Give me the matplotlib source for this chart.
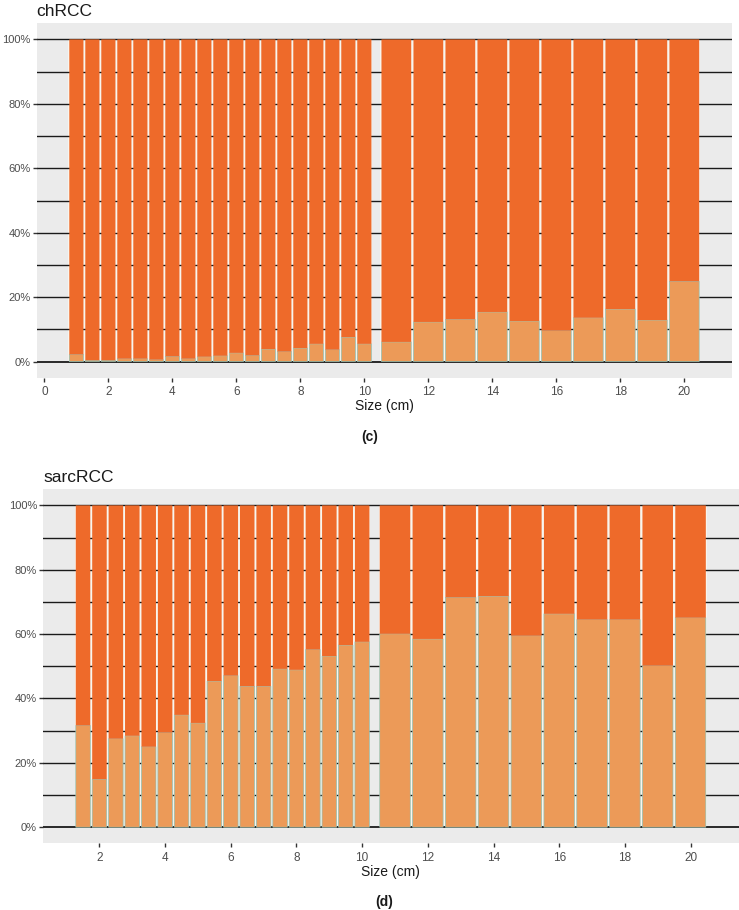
import matplotlib
matplotlib.use("Agg")
import matplotlib.pyplot as plt
import numpy as np

plt.rcParams["font.family"] = ["Liberation Sans", "DejaVu Sans"]

# ---- data ----
ch_small_x = [1.0, 1.5, 2.0, 2.5, 3.0, 3.5, 4.0, 4.5, 5.0, 5.5, 6.0, 6.5, 7.0, 7.5, 8.0, 8.5, 9.0, 9.5, 10.0]
ch_small_low = [2.2, 0.4, 0.4, 0.9, 0.9, 0.6, 1.6, 0.9, 1.5, 1.8, 2.7, 1.9, 3.9, 3.1, 4.2, 5.5, 3.7, 7.6, 5.5]
ch_big_x = [11, 12, 13, 14, 15, 16, 17, 18, 19, 20]
ch_big_low = [6.1, 12.3, 13.1, 15.4, 12.6, 9.6, 13.6, 16.3, 12.9, 24.9]

sarc_small_x = [1.5, 2.0, 2.5, 3.0, 3.5, 4.0, 4.5, 5.0, 5.5, 6.0, 6.5, 7.0, 7.5, 8.0, 8.5, 9.0, 9.5, 10.0]
sarc_small_low = [31.6, 14.9, 27.5, 28.4, 25.0, 29.4, 34.9, 32.4, 45.4, 47.1, 43.8, 43.8, 49.2, 48.9, 55.2, 53.2, 56.6, 57.6]
sarc_big_x = [11, 12, 13, 14, 15, 16, 17, 18, 19, 20]
sarc_big_low = [60.1, 58.5, 71.4, 71.8, 59.5, 66.3, 64.5, 64.5, 50.2, 65.1]

titles = ["chRCC", "sarcRCC"]
panel_labels = ["(c)", "(d)"]
xticks = [[0, 2, 4, 6, 8, 10, 12, 14, 16, 18, 20], [2, 4, 6, 8, 10, 12, 14, 16, 18, 20]]
yticks = [0, 20, 40, 60, 80, 100]
ytick_labels = ["0%", "20%", "40%", "60%", "80%", "100%"]

DARK = "#EE6A2A"
LIGHT = "#EC9A58"
BG = "#EBEBEB"
TICKC = "#4D4D4D"

fig = plt.figure(figsize=(7.39, 9.10), dpi=100)
W, H = 739, 910

def axes_px(l, t, r, b):
    return fig.add_axes([l / W, 1 - b / H, (r - l) / W, (b - t) / H])

ax1 = axes_px(36.7, 23.3, 732, 377.7)
ax2 = axes_px(43.3, 489.3, 738.5, 843.3)

panels = [
    (ax1, ch_small_x, ch_small_low, ch_big_x, ch_big_low, (-0.24, 21.49)),
    (ax2, sarc_small_x, sarc_small_low, sarc_big_x, sarc_big_low, (0.29, 21.46)),
]

for i, (ax, sx, sl, bx, bl, xl) in enumerate(panels):
    ax.set_facecolor(BG)
    for spine in ax.spines.values():
        spine.set_visible(False)
    ax.set_xlim(*xl)
    ax.set_ylim(-5, 105)
    for xs, lows, w in ((sx, sl, 0.5), (bx, bl, 1.0)):
        xs = np.array(xs, dtype=float)
        lows = np.array(lows, dtype=float)
        gap = 0.058 if w == 0.5 else 0.07
        # whitish backing behind the bars (visible through the gaps)
        ax.bar(xs, 100, width=w, bottom=0, color="#F8F5EE", zorder=0.5, linewidth=0)
        ax.bar(xs, lows, width=w - gap, bottom=0, color=LIGHT, zorder=2,
               edgecolor="#8fc1b6", linewidth=0.5, snap=False)
        ax.bar(xs, 100 - lows, width=w - gap, bottom=lows, color=DARK, zorder=2,
               linewidth=0, snap=False)
    for g in range(0, 101, 10):
        ax.axhline(g, color="#1a1a1a", lw=1.0 if g else 1.3, zorder=1)
    ax.set_yticks(yticks)
    ax.set_yticklabels(ytick_labels)
    ax.set_xticks(xticks[i])
    ax.set_xticklabels([str(t) for t in xticks[i]])
    ax.tick_params(axis="y", length=3, width=1, color="#333333", labelcolor=TICKC,
                   labelsize=8, pad=1.5)
    ax.tick_params(axis="x", length=3, width=1, color="#333333", labelcolor=TICKC,
                   labelsize=8.5, pad=3)
    ax.set_xlabel("Size (cm)", fontsize=10, color="#1a1a1a", labelpad=1)
    ax.set_title(titles[i], loc="left", fontsize=12.5, color="#1a1a1a", pad=5)

fig.text(370 / W, 1 - 437 / H, panel_labels[0], ha="center", va="center",
         fontsize=10, fontweight="bold", color="#1a1a1a")
fig.text(384 / W, 1 - 902 / H, panel_labels[1], ha="center", va="center",
         fontsize=10, fontweight="bold", color="#1a1a1a")

fig.savefig("out.png", dpi=100)
